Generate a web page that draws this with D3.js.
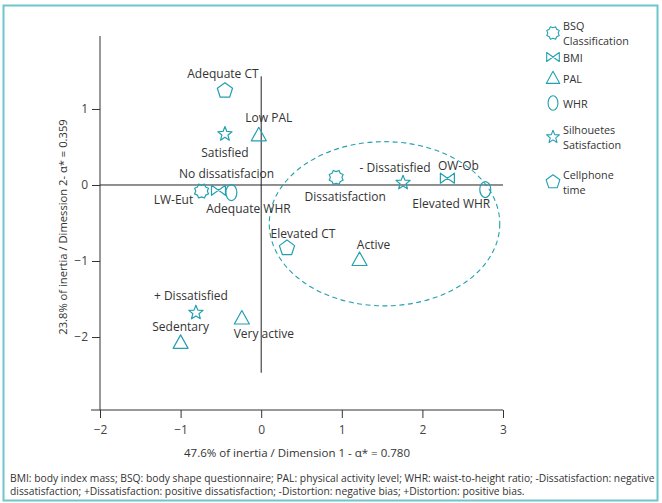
<!DOCTYPE html>
<html><head><meta charset="utf-8">
<script src="https://cdn.jsdelivr.net/npm/d3@7"></script>
<style>
body{margin:0;background:#fff;}
text{font-family:"Open Sans",sans-serif;fill:#333;}
</style></head>
<body><svg id="c" width="662" height="503"></svg>
<script>
// ---- data ----
const categories = ["No dissatisfacion","Dissatisfaction","LW-Eut","OW-Ob","Low PAL","Active","Very active","Sedentary","Adequate WHR","Elevated WHR","Satisfied","-  Dissatisfied","+ Dissatisfied","Adequate CT","Elevated CT"];
const groups = ["BSQ","BSQ","BMI","BMI","PAL","PAL","PAL","PAL","WHR","WHR","SIL","SIL","SIL","CT","CT"];
const dim1 = [-0.74, 0.93, -0.53, 2.31, -0.03, 1.22, -0.24, -1.00, -0.37, 2.78, -0.45, 1.76, -0.81, -0.45, 0.32];
const dim2 = [-0.08, 0.10, -0.07, 0.09, 0.66, -0.98, -1.75, -2.07, -0.10, -0.06, 0.67, 0.03, -1.68, 1.24, -0.83];
// label offsets (px) relative to the point
const labelDx = [25, 9, -45, 11, 10, 14, 22, 0, 17, -34, 0, -8, -5, -2, 16];
const labelDy = [-18, 19, 9, -13, -17, -15, 15, -16, 16, 14, 18, -15, -17, -17, -15];
const legendKeys = ["BSQ","BMI","PAL","WHR","SIL","CT"];
const legendLabels = [["BSQ","Classification"],["BMI"],["PAL"],["WHR"],["Silhouetes","Satisfaction"],["Cellphone","time"]];
const xTicks = [-2,-1,0,1,2,3];
const yTicks = [-2,-1,0,1];
const clusterEllipse = {cx:1.53, cy:-0.51, rx:1.43, ry:1.08};
const xTitle = "47.6% of inertia / Dimension 1 - α* = 0.780";
const yTitle = "23.8% of inertia / Dimession 2- α* = 0.359";
const footnote = ["BMI: body index mass; BSQ: body shape questionnaire; PAL: physical activity level; WHR: waist-to-height ratio; -Dissatisfaction: negative",
 "dissatisfaction; +Dissatisfaction: positive dissatisfaction; -Distortion: negative bias; +Distortion: positive bias."];

// ---- drawing ----
const teal = "#22a0b0";
const svg = d3.select("#c");
svg.append("rect").attr("x",3.5).attr("y",5.5).attr("width",654).attr("height",495)
  .attr("fill","none").attr("stroke","#6ec6cd").attr("stroke-width",2);

const x = d3.scaleLinear().domain([-2,3]).range([100,503]);
const y = d3.scaleLinear().domain([-2.96,1.96]).range([410,36]);

const xAxis = svg.append("g").attr("transform","translate(0,410)")
  .call(d3.axisBottom(x).tickValues(xTicks).tickSize(8).tickSizeOuter(0).tickFormat(d3.format("d")));
const yAxis = svg.append("g").attr("transform","translate(100,0)")
  .call(d3.axisLeft(y).tickValues(yTicks).tickSize(8).tickSizeOuter(0).tickFormat(d3.format("d")));
[xAxis,yAxis].forEach(a=>{
  a.select(".domain").remove();
  a.selectAll("line").attr("stroke","#333");
  a.selectAll("text").style("font-size","12px").style("fill","#444").attr("font-family","Open Sans");
});
xAxis.selectAll("text").attr("dy","1.1em");
yAxis.selectAll("text").attr("dx","-1px");
// axis lines
svg.append("line").attr("x1",x(-2)-9).attr("x2",x(3)).attr("y1",410).attr("y2",410).attr("stroke","#333");
svg.append("line").attr("x1",x(-2)).attr("x2",x(-2)).attr("y1",y(1.96)).attr("y2",410).attr("stroke","#333");
// zero lines
svg.append("line").attr("x1",x(-2)).attr("x2",x(3)).attr("y1",y(0)).attr("y2",y(0)).attr("stroke","#222");
svg.append("line").attr("x1",x(0)).attr("x2",x(0)).attr("y1",y(1.43)).attr("y2",y(-2.47)).attr("stroke","#222");

// dashed ellipse
svg.append("ellipse")
  .attr("cx",x(clusterEllipse.cx)).attr("cy",y(clusterEllipse.cy))
  .attr("rx",x(clusterEllipse.rx)-x(0)).attr("ry",y(0)-y(clusterEllipse.ry))
  .attr("fill","none").attr("stroke",teal).attr("stroke-width",1.1).attr("stroke-dasharray","5,3.5");

function poly(n, r1, r2, rot){
  const pts=[];
  const m = r2==null? n : 2*n;
  for(let i=0;i<m;i++){
    const r = (r2==null||i%2===0)? r1 : r2;
    const a = rot + i*2*Math.PI/m;
    pts.push([r*Math.sin(a), -r*Math.cos(a)]);
  }
  return "M"+pts.map(p=>p[0].toFixed(2)+","+p[1].toFixed(2)).join("L")+"Z";
}
const shapes = {
  BSQ: poly(8, 7.5, 5.8, Math.PI/8),
  BMI: "M-7,-5L-7,5L7,-5L7,5Z",
  PAL: "M0,-7.5L7.5,6L-7.5,6Z",
  WHR: null,
  SIL: poly(5, 7.5, 3.2, 0),
  CT: poly(5, 8, null, 0)
};
function drawSymbol(g, key){
  if(key==="WHR"){
    g.append("ellipse").attr("rx",5.5).attr("ry",8).attr("fill","none").attr("stroke",teal).attr("stroke-width",1.2);
  } else {
    g.append("path").attr("d",shapes[key]).attr("fill","none").attr("stroke",teal).attr("stroke-width",1.2).attr("stroke-linejoin","round");
  }
}
categories.forEach((c,i)=>{
  const g = svg.append("g").attr("transform",`translate(${x(dim1[i])},${y(dim2[i])})`);
  drawSymbol(g, groups[i]);
  g.append("text").attr("x",labelDx[i]).attr("y",labelDy[i]).attr("text-anchor","middle")
    .attr("dominant-baseline","central").style("font-size","12px").text(c);
});

// legend
const legendY = [33, 57, 78, 103, 137, 182];
legendKeys.forEach((k,i)=>{
  const g = svg.append("g").attr("transform",`translate(553,${legendY[i]})`);
  const lines = legendLabels[i];
  g.append("g").attr("transform",`scale(0.9)`).call(s=>drawSymbol(s,k));
  lines.forEach((l,j)=>{
    const yy = lines.length>1 ? (j===0 ? -7.4 : 7.4) : 0;
    g.append("text").attr("x",10).attr("y",yy).attr("dominant-baseline","central")
      .style("font-size","10.8px").text(l);
  });
});

// titles
svg.append("text").attr("x",297).attr("y",452).attr("text-anchor","middle").attr("dominant-baseline","central")
  .style("font-size","11.5px").text(xTitle);
svg.append("text").attr("transform","translate(62,227) rotate(-90)").attr("text-anchor","middle")
  .attr("dominant-baseline","central").style("font-size","11.2px").text(yTitle);
// footnote
footnote.forEach((l,i)=>{
  svg.append("text").attr("x",10).attr("y",478+i*13).attr("dominant-baseline","central")
    .style("font-size","10.3px").text(l);
});
</script></body></html>
